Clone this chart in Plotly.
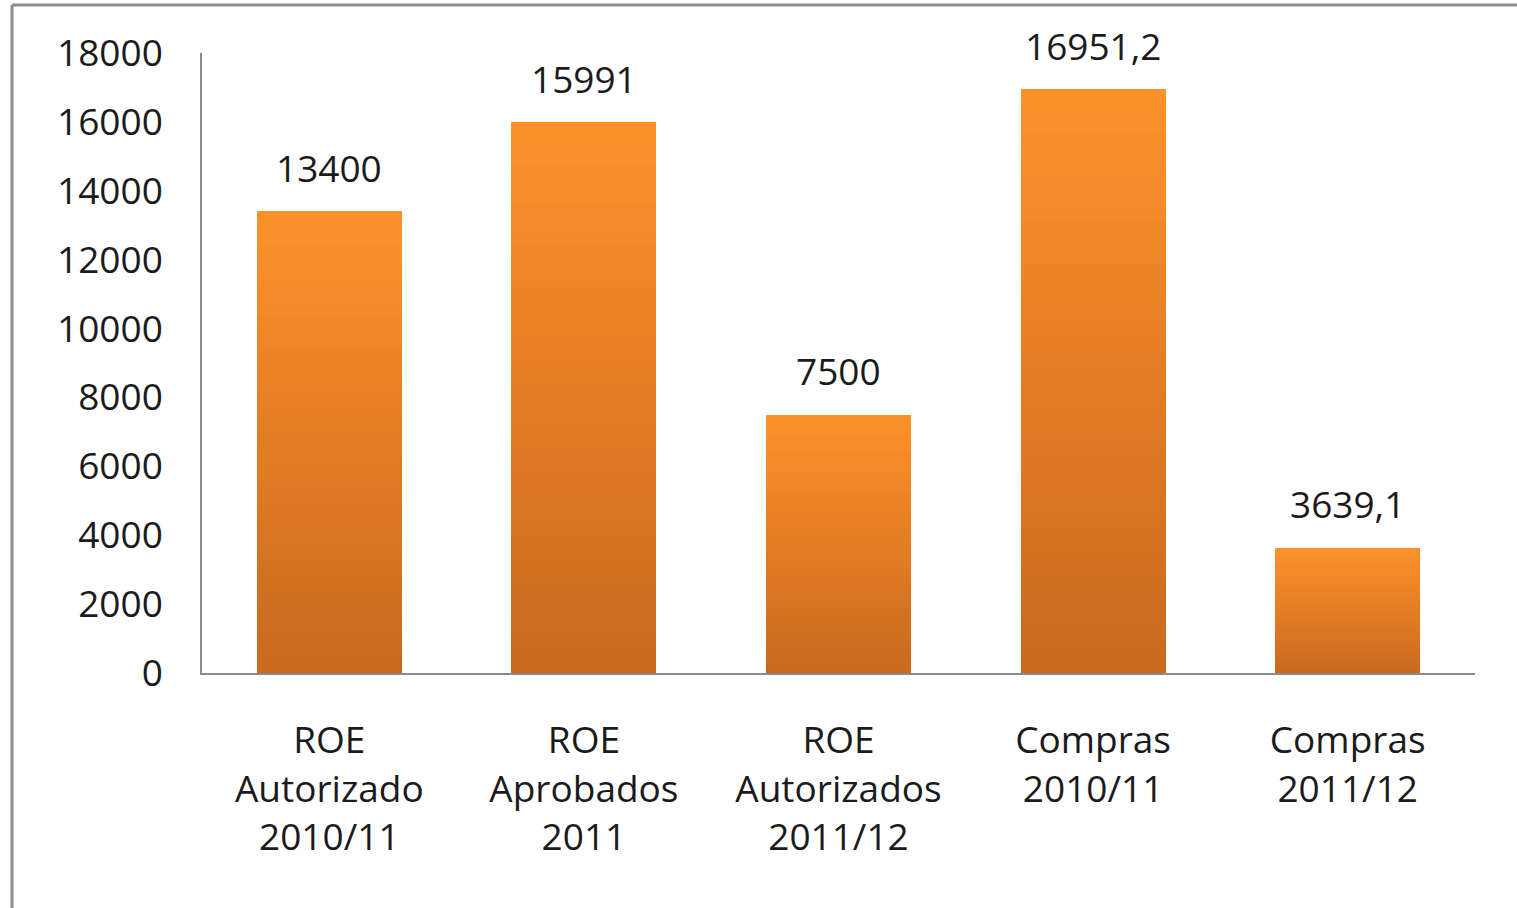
import plotly.graph_objects as go

categories = ["ROE<br>Autorizado<br>2010/11", "ROE<br>Aprobados<br>2011", "ROE<br>Autorizados<br>2011/12",
              "Compras<br>2010/11", "Compras<br>2011/12"]
values = [13400, 15991, 7500, 16951.2, 3639.1]
y_ticks = [0, 2000, 4000, 6000, 8000, 10000, 12000, 14000, 16000, 18000]
y_tick_labels = [str(v) for v in y_ticks]

W, H = 1517, 908
L, R, T, B = 202, 1475, 53, 673
FONT = "Open Sans"
TXT = "#1b1b1b"

top_rgb = (254, 145, 42)
bot_rgb = (201, 106, 31)
N = 40

def lerp(a, b, t):
    return tuple(int(round(a[i] + (b[i] - a[i]) * t)) for i in range(3))

fig = go.Figure()
for k in range(N):
    t = (k + 0.5) / N
    c = lerp(bot_rgb, top_rgb, t)
    fig.add_trace(go.Bar(
        x=categories, y=[v / N for v in values],
        marker=dict(color="rgb(%d,%d,%d)" % c, line=dict(width=0)),
        showlegend=False, hoverinfo="skip"))

def fmt(v):
    return str(int(v)) if float(v).is_integer() else str(v).replace(".", ",")

for c, v in zip(categories, values):
    fig.add_annotation(x=c, y=v, text=fmt(v), showarrow=False, yanchor="middle", yshift=44,
                       font=dict(family=FONT, size=37, color=TXT))

px = lambda x: (x - L) / (R - L)
py = lambda y: (B - y) / (B - T)
frame = "#8c8c8c"
fig.add_shape(type="line", xref="paper", yref="paper", x0=px(12), x1=px(1530), y0=py(5), y1=py(5),
              line=dict(color=frame, width=3))
fig.add_shape(type="line", xref="paper", yref="paper", x0=px(12), x1=px(12), y0=py(5), y1=py(920),
              line=dict(color=frame, width=3))

fig.update_layout(
    width=W, height=H, barmode="stack", bargap=0.43,
    margin=dict(l=L, r=W - R, t=T, b=H - B, autoexpand=False),
    paper_bgcolor="white", plot_bgcolor="white",
    font=dict(family=FONT, size=37, color=TXT),
)
fig.update_xaxes(showgrid=False, showline=True, linecolor="#8a8a8a", linewidth=2, ticks="",
                 tickfont=dict(family=FONT, size=37, color=TXT), ticklabelstandoff=34)
fig.update_yaxes(range=[0, 18000], tickvals=y_ticks, ticktext=y_tick_labels, showgrid=False,
                 showline=True, linecolor="#8a8a8a", linewidth=1.5, ticks="", zeroline=False,
                 tickfont=dict(family=FONT, size=37, color=TXT), ticklabelstandoff=30)

fig.write_html("out.html", config={"displayModeBar": False},
               post_script="document.body.style.margin='0';document.body.style.overflow='hidden';")
